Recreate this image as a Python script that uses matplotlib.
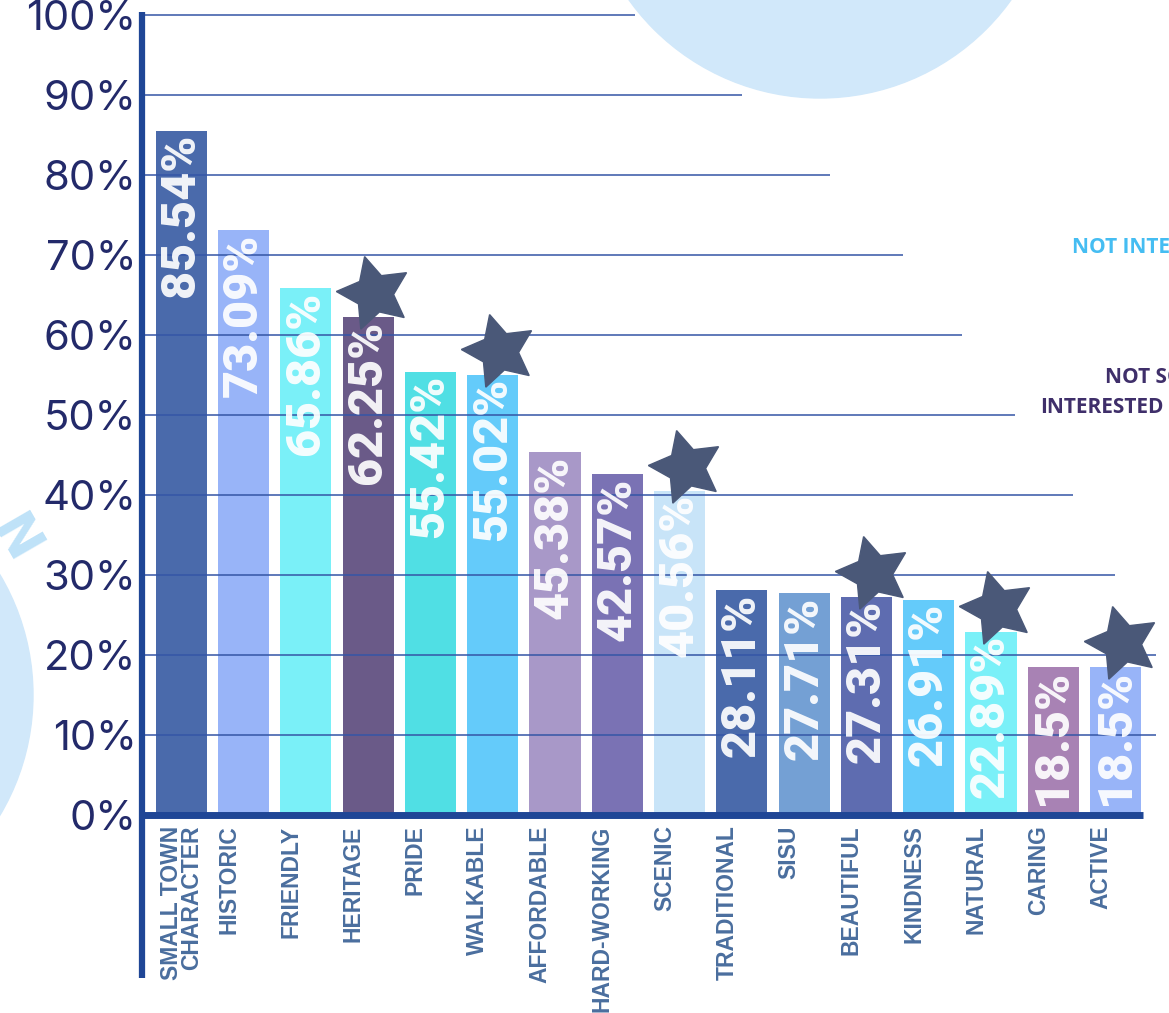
import matplotlib.pyplot as plt
from matplotlib.patches import Ellipse

# data
categories = ['SMALL TOWN\nCHARACTER', 'HISTORIC', 'FRIENDLY', 'HERITAGE', 'PRIDE', 'WALKABLE',
              'AFFORDABLE', 'HARD-WORKING', 'SCENIC', 'TRADITIONAL', 'SISU', 'BEAUTIFUL',
              'KINDNESS', 'NATURAL', 'CARING', 'ACTIVE']
values = [85.54, 73.09, 65.86, 62.25, 55.42, 55.02, 45.38, 42.57, 40.56,
          28.11, 27.71, 27.31, 26.91, 22.89, 18.5, 18.5]
value_labels = ['85.54%', '73.09%', '65.86%', '62.25%', '55.42%', '55.02%', '45.38%', '42.57%',
                '40.56%', '28.11%', '27.71%', '27.31%', '26.91%', '22.89%', '18.5%', '18.5%']
starred = [False, False, False, True, False, True, False, False, True,
           False, False, True, False, True, False, True]
colors = ['#4a6aab', '#98b4f8', '#7af0f8', '#6a5a88', '#50dfe4', '#64cbfa', '#a898c8', '#7a72b4',
          '#c8e4f8', '#4a6aab', '#74a0d4', '#5e6cb0', '#64cbfa', '#7af0f8', '#a882b4', '#98b4f8']
yticks = [0, 10, 20, 30, 40, 50, 60, 70, 80, 90, 100]
ytick_labels = ['0%', '10%', '20%', '30%', '40%', '50%', '60%', '70%', '80%', '90%', '100%']
# where each gridline stops (x in bar units)
grid_levels = [10, 20, 30, 40, 50, 60, 70, 80, 90, 100]
grid_ends = [15.65, 15.65, 14.99, 14.32, 13.39, 12.54, 11.59, 10.42, 9.0, 7.29]

W, H = 1169, 1013
fig = plt.figure(figsize=(W / 100, H / 100), dpi=100)

# background circles
bg = '#d1e8fa'
fig.patches.append(Ellipse((820 / W, 1 + 137 / H), 470 / W, 470 / H, transform=fig.transFigure,
                           color=bg, zorder=0))
fig.patches.append(Ellipse((-202 / W, 1 - 695 / H), 470 / W, 470 / H, transform=fig.transFigure,
                           color=bg, zorder=0))
fig.text(14 / W, 1 - 540 / H, 'N', fontsize=38, fontweight='bold', color='#bfe2f8',
         rotation=-60, ha='center', va='center', family='DejaVu Sans')

ax = fig.add_axes([142 / W, 198 / H, (1143 - 142) / W, 800 / H])
ax.set_facecolor('none')
x = list(range(len(categories)))
ax.bar(x, values, width=0.82, color=colors, zorder=2)

# gridlines on top of bars
ax.hlines(grid_levels, -0.63, grid_ends, colors='#3556a6', lw=1.3, alpha=0.85, zorder=3,
          clip_on=False)

for i, v in enumerate(values):
    ax.text(i, v - 0.4, value_labels[i], rotation=90, rotation_mode='anchor', ha='right',
            va='center', color='white', alpha=0.92, fontsize=35, fontweight='heavy',
            family='Roboto', zorder=4)
    if starred[i]:
        ax.plot(i + 0.1, v + 3.0, marker=(5, 1, 15), markersize=55, color='#4a5878',
                zorder=5, clip_on=False)

# x labels
for i, c in enumerate(categories):
    dx = 0 if '\n' in c else -0.24
    ax.text(i + dx, -1.3, c, rotation=90, ha='center', va='top', multialignment='right',
            fontsize=16.5, fontweight='bold', color='#4a6e9e', family='Liberation Sans',
            linespacing=0.85)

ax.set_xlim(-0.63, 15.44)
ax.set_ylim(0, 100)
for s in ax.spines.values():
    s.set_visible(False)
ax.set_xticks([])
ax.set_yticks(yticks)
ax.set_yticklabels(ytick_labels, fontsize=30, color='#232a6a', family='Inter')
ax.tick_params(axis='y', length=0, pad=4)

# axis lines
ax.plot([0, 0], [-0.204, 1.004], transform=ax.transAxes, color='#1f4696', lw=4.5,
        clip_on=False, zorder=6, solid_capstyle='butt')
ax.plot([0, 1], [0, 0], transform=ax.transAxes, color='#1f4696', lw=5,
        clip_on=False, zorder=6, solid_capstyle='butt')

# side notes
fig.text(1072 / W, 1 - 253 / H, 'NOT INTERESTED', fontsize=15, fontweight='bold',
         color='#45bdf2', family='Open Sans')
fig.text(1105 / W, 1 - 383 / H, 'NOT SO', fontsize=15, fontweight='bold',
         color='#3f2f6a', family='Open Sans')
fig.text(1040 / W, 1 - 413 / H, 'INTERESTED', fontsize=15, fontweight='bold',
         color='#3f2f6a', family='Open Sans')

fig.savefig('out.png', dpi=100)
